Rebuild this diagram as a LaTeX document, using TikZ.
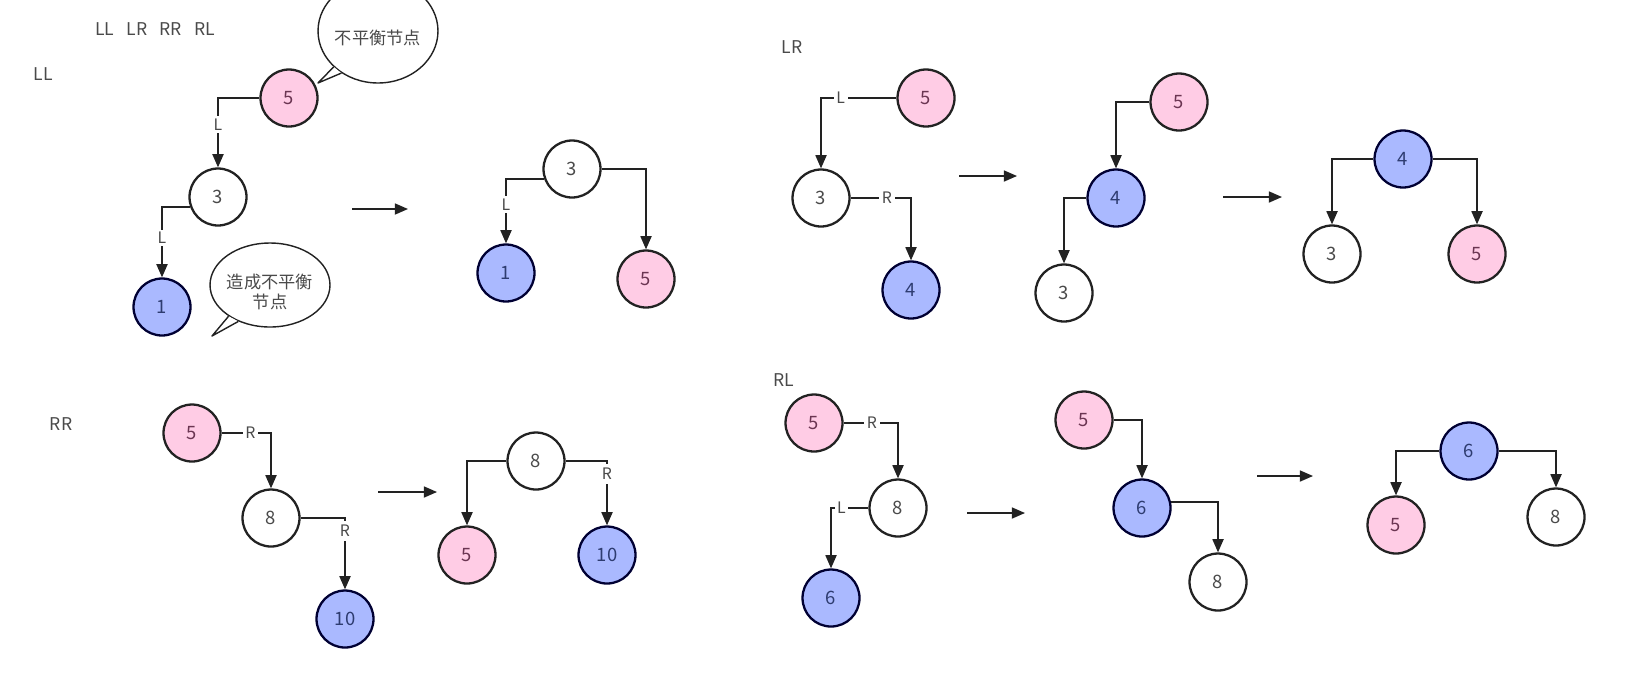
\documentclass[tikz,border=0pt]{standalone}
\usepackage{fontspec}
\setmainfont{Noto Sans CJK SC}
\usetikzlibrary{arrows.meta,shapes.geometric}
\definecolor{pinkfill}{HTML}{FFCCE5}
\definecolor{bluefill}{HTML}{AAB9FF}
\definecolor{txtgray}{HTML}{4A4A4A}
\definecolor{pinktxt}{HTML}{6B3552}
\definecolor{bluetxt}{HTML}{2E3C70}
\definecolor{linegray}{HTML}{222222}
\begin{document}
\begin{tikzpicture}[x=0.02cm,y=-0.02cm,
    every node/.style={text=txtgray},
    treenode/.style={circle,draw=linegray,line width=1.3pt,minimum size=1.14cm,
      inner sep=0pt,font=\fontsize{10.5}{12}\selectfont},
    plainnode/.style={treenode,fill=white},
    pinknode/.style={treenode,fill=pinkfill,text=pinktxt},
    bluenode/.style={treenode,fill=bluefill,draw=black!80!blue,text=bluetxt},
    edge/.style={-{Triangle[length=7.5pt,width=6.3pt]},line width=0.9pt,draw=linegray},
    lbl/.style={fill=white,inner sep=1.5pt,font=\fontsize{9}{10}\selectfont},
    title/.style={font=\fontsize{10}{12}\selectfont},
    bubble/.style={ellipse,draw=linegray,line width=0.8pt,fill=white,inner sep=0pt,
      minimum width=2.4cm,minimum height=1.68cm},
    bubbletext/.style={align=center,inner sep=0pt,font=\fontsize{9.8}{11.3}\selectfont},
    tail/.style={draw=linegray,line width=0.8pt,line join=round}]
  \useasboundingbox (0,0) rectangle (1638,684);
  % titles
  \draw
    (155,29) node[title] (top) {LL\hspace{0.7em}LR\hspace{0.7em}RR\hspace{0.7em}RL}
    (43,74) node[title] (tll) {LL}
    (792,47) node[title] (tlr) {LR}
    (61,424) node[title] (trr) {RR}
    (784,380) node[title] (trl) {RL};
  % callouts
  \coordinate (tip1) at (318,83);
  \coordinate (tip2) at (212,336);
  \node[bubble,minimum height=2.08cm] (say1) at (378,31) {};
  \node[bubble] (say2) at (270,285) {};
  \fill[white] (say1.219) -- (tip1) -- (say1.229) -- cycle;
  \draw[tail] (say1.219) -- (tip1) -- (say1.229);
  \fill[white] (say2.217) -- (tip2) -- (say2.229) -- cycle;
  \draw[tail] (say2.217) -- (tip2) -- (say2.229);
  \node[bubbletext] (say1txt) at (378,38) {不平衡节点};
  \node[bubbletext] (say2txt) at (270,292) {造成不平衡\\节点};
  % LL
  \draw
    (289,98) node[pinknode] (ll5) {5}
    (218,197) node[plainnode] (ll3) {3}
    (162,307) node[bluenode] (ll1) {1}
    (572,169) node[plainnode] (llb3) {3}
    (506,273) node[bluenode] (llb1) {1}
    (646,279) node[pinknode] (llb5) {5};
  % LR
  \draw
    (926,98) node[pinknode] (lr5) {5}
    (821,198) node[plainnode] (lr3) {3}
    (911,290) node[bluenode] (lr4) {4}
    (1179,102) node[pinknode] (lrb5) {5}
    (1116,198) node[bluenode] (lrb4) {4}
    (1064,293) node[plainnode] (lrb3) {3}
    (1403,159) node[bluenode] (lrc4) {4}
    (1332,254) node[plainnode] (lrc3) {3}
    (1477,254) node[pinknode] (lrc5) {5};
  % RR
  \draw
    (192,433) node[pinknode] (rr5) {5}
    (271,518) node[plainnode] (rr8) {8}
    (345,619) node[bluenode] (rr10) {10}
    (536,461) node[plainnode] (rrb8) {8}
    (467,555) node[pinknode] (rrb5) {5}
    (607,555) node[bluenode] (rrb10) {10};
  % RL
  \draw
    (814,423) node[pinknode] (rl5) {5}
    (898,508) node[plainnode] (rl8) {8}
    (831,598) node[bluenode] (rl6) {6}
    (1084,420) node[pinknode] (rlb5) {5}
    (1142,508) node[bluenode] (rlb6) {6}
    (1218,582) node[plainnode] (rlb8) {8}
    (1469,451) node[bluenode] (rlc6) {6}
    (1396,525) node[pinknode] (rlc5) {5}
    (1556,517) node[plainnode] (rlc8) {8};
  % rotation arrows
  \coordinate (go1a) at (352,209); \coordinate (go1b) at (408,209);
  \coordinate (go2a) at (959,176); \coordinate (go2b) at (1017,176);
  \coordinate (go3a) at (1223,197); \coordinate (go3b) at (1282,197);
  \coordinate (go4a) at (378,492); \coordinate (go4b) at (437,492);
  \coordinate (go5a) at (967,513); \coordinate (go5b) at (1025,513);
  \coordinate (go6a) at (1257,476); \coordinate (go6b) at (1313,476);
  \begin{scope}[edge]
    \draw (ll5.west) -| node[lbl,pos=0.69] {L} (ll3.north);
    \draw (ll3.200) -| node[lbl,pos=0.72] {L} (ll1.north);
    \draw (llb3.200) -| node[lbl,pos=0.70] {L} (llb1.north);
    \draw (llb3.east) -| (llb5.north);
    \draw (lr5.west) -| node[lbl,pos=0.37] {L} (lr3.north);
    \draw (lr3.east) -| node[lbl,pos=0.30] {R} (lr4.north);
    \draw (lrb5.west) -| (lrb4.north);
    \draw (lrb4.west) -| (lrb3.north);
    \draw (lrc4.west) -| (lrc3.north);
    \draw (lrc4.east) -| (lrc5.north);
    \draw (rr5.east) -| node[lbl,pos=0.29] {R} (rr8.north);
    \draw (rr8.east) -| node[lbl,pos=0.59,inner sep=2.5pt] {R} (rr10.north);
    \draw (rrb8.west) -| (rrb5.north);
    \draw (rrb8.east) -| node[lbl,pos=0.60,inner sep=2.5pt] {R} (rrb10.north);
    \draw (rl5.east) -| node[lbl,pos=0.26] {R} (rl8.north);
    \draw (rl8.west) -| node[lbl,pos=0.36] {L} (rl6.north);
    \draw (rlb5.east) -| (rlb6.north);
    \draw (rlb6.12) -| (rlb8.north);
    \draw (rlc6.west) -| (rlc5.north);
    \draw (rlc6.east) -| (rlc8.north);
    \draw (go1a) -- (go1b);
    \draw (go2a) -- (go2b);
    \draw (go3a) -- (go3b);
    \draw (go4a) -- (go4b);
    \draw (go5a) -- (go5b);
    \draw (go6a) -- (go6b);
  \end{scope}
\end{tikzpicture}
\end{document}
